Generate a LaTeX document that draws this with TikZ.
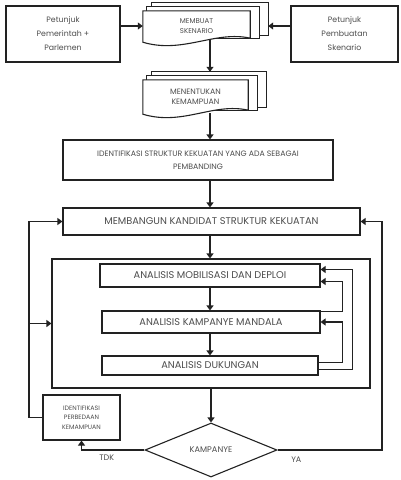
\documentclass[tikz,border=0pt]{standalone}
\usepackage{fontspec}
\setmainfont{Poppins}
\usetikzlibrary{arrows.meta,calc,positioning,shapes.geometric,backgrounds}
\definecolor{Ink}{HTML}{222222}
\definecolor{Muted}{HTML}{4D4D4D}
\tikzset{
  flowbox/.style={draw=Ink,line width=1.1pt,fill=white,align=center,text=Muted,inner sep=0pt},
  docbox/.style={align=center,text=Muted,inner sep=0pt},
  flowline/.style={draw=Ink,line width=1.1pt},
  flowarrow/.style={flowline,-{Triangle[length=5pt,width=7pt]}},
  fs/.style args={#1/#2}{font=\fontsize{#1}{#2}\selectfont},
}
\begin{document}
\begin{tikzpicture}[x=1pt,y=-1pt]
  \useasboundingbox (0,0) rectangle (401,480);
  \coordinate (col) at (210,0);
  \coordinate (lx) at (29,0);
  \coordinate (rx) at (382,0);
  % top row
  \node[flowbox,minimum width=114,minimum height=56,fs=7.8/14] (pemer) at (63,34) {Petunjuk\\Pemerintah +\\Parlemen};
  \node[flowbox,minimum width=107,minimum height=56,fs=7.8/14] (pembu) at (344.5,34) {Petunjuk\\Pembuatan\\Skenario};
  \node[docbox,minimum width=107,minimum height=30,fs=7/10] (skn) at (196.5,26) {MEMBUAT\\SKENARIO};
  \node[docbox,minimum width=105,minimum height=33,fs=7.8/10] (kmp) at (195.5,96.5) {MENENTUKAN\\KEMAMPUAN};
  \begin{scope}[on background layer]
    \foreach \nm in {skn,kmp}{
      \draw[flowline,fill=white] ($(\nm.north west)+(9,-8)$) rectangle ($(\nm.south east)+(18,-6)$);
      \draw[flowline,fill=white] ($(\nm.north west)+(4,-4)$) rectangle ($(\nm.south east)+(9,-3)$);
      \draw[flowline,fill=white] (\nm.north west) -- (\nm.north east) -- ($(\nm.south east)+(0,-3)$)
        .. controls +(-35,-8) and +(40,12) .. ($(\nm.south west)+(0,1)$) -- cycle;
    }
  \end{scope}
  \foreach \nm in {skn,kmp}{
    \coordinate (\nm-back) at ($(\nm.east)+(18,0)$);
    \coordinate (\nm-top) at ($(\nm.north -| col)+(0,-8)$);
  }
  % main column
  \node[flowbox,minimum width=270,minimum height=40,fs=7.8/13] (ident) at (198,160) {IDENTIFIKASI STRUKTUR KEKUATAN YANG ADA SEBAGAI\\PEMBANDING};
  \node[flowbox,minimum width=297,minimum height=27,fs=9.8/10] (bangun) at (211.5,221.5) {MEMBANGUN KANDIDAT STRUKTUR KEKUATAN};
  \node[flowbox,minimum width=318,minimum height=129] (big) at (211,323.5) {};
  \foreach \nm/\txt/\x/\y/\w/\h in {
    mob/{ANALISIS MOBILISASI DAN DEPLOI}/210/275.5/220/23,
    kmd/{ANALISIS KAMPANYE MANDALA}/211/322/218/22,
    duk/{ANALISIS DUKUNGAN}/210/365.5/216/19}{
    \node[flowbox,minimum width=\w,minimum height=\h,fs=9.8/10] (\nm) at (\x,\y) {\txt};
  }
  \node[flowbox,minimum width=77,minimum height=45,fs=6.3/9.5] (perb) at (81.5,417.5) {IDENTIFIKASI\\PERBEDAAN\\KEMAMPUAN};
  \node[flowbox,diamond,aspect=2.45,minimum width=132,minimum height=54,fs=8.2/10] (kamp) at (211,450) {KAMPANYE};
  % connectors
  \draw[flowarrow] (pemer.east |- skn.west) -- (skn.west);
  \draw[flowarrow] (pembu.west |- skn.west) -- (skn-back);
  \draw[flowarrow] ($(skn.south -| col)+(0,-2)$) -- (kmp-top);
  \foreach \a/\b in {kmp/ident,ident/bangun,bangun/big,mob/kmd,kmd/duk}{
    \draw[flowarrow] (\a.south -| col) -- (\b.north -| col);
  }
  \draw[flowarrow] (big.south) -- (kamp.north);
  % loops inside
  \draw[flowarrow] ($(kmd.north east)+(0,1)$) -- ++(22,0) |- ($(mob.east)+(0,6)$);
  \draw[flowarrow] ($(duk.east)+(0,-3)$) -- ++(24,0) |- (kmd.east);
  \draw[flowarrow] ($(duk.east)+(0,4)$) -- ++(34,0) |- ($(mob.east)+(0,-6)$);
  % loops outside
  \draw[flowarrow] (perb.west) -- (perb.west -| lx) -- (bangun.west -| lx) -- (bangun.west);
  \draw[flowarrow] (big.west -| lx) -- (big.west);
  \draw[flowarrow] (kamp.west) -- node[pos=0.6,below=1pt,text=Muted,fs=8/8] (tdk) {TDK} (kamp.west -| perb.south) -- (perb.south);
  \draw[flowarrow] (kamp.east) -- node[pos=0.18,below=3pt,text=Muted,fs=8/8] (ya) {YA} (kamp.east -| rx) -- (bangun.east -| rx) -- (bangun.east);
\end{tikzpicture}
\end{document}
